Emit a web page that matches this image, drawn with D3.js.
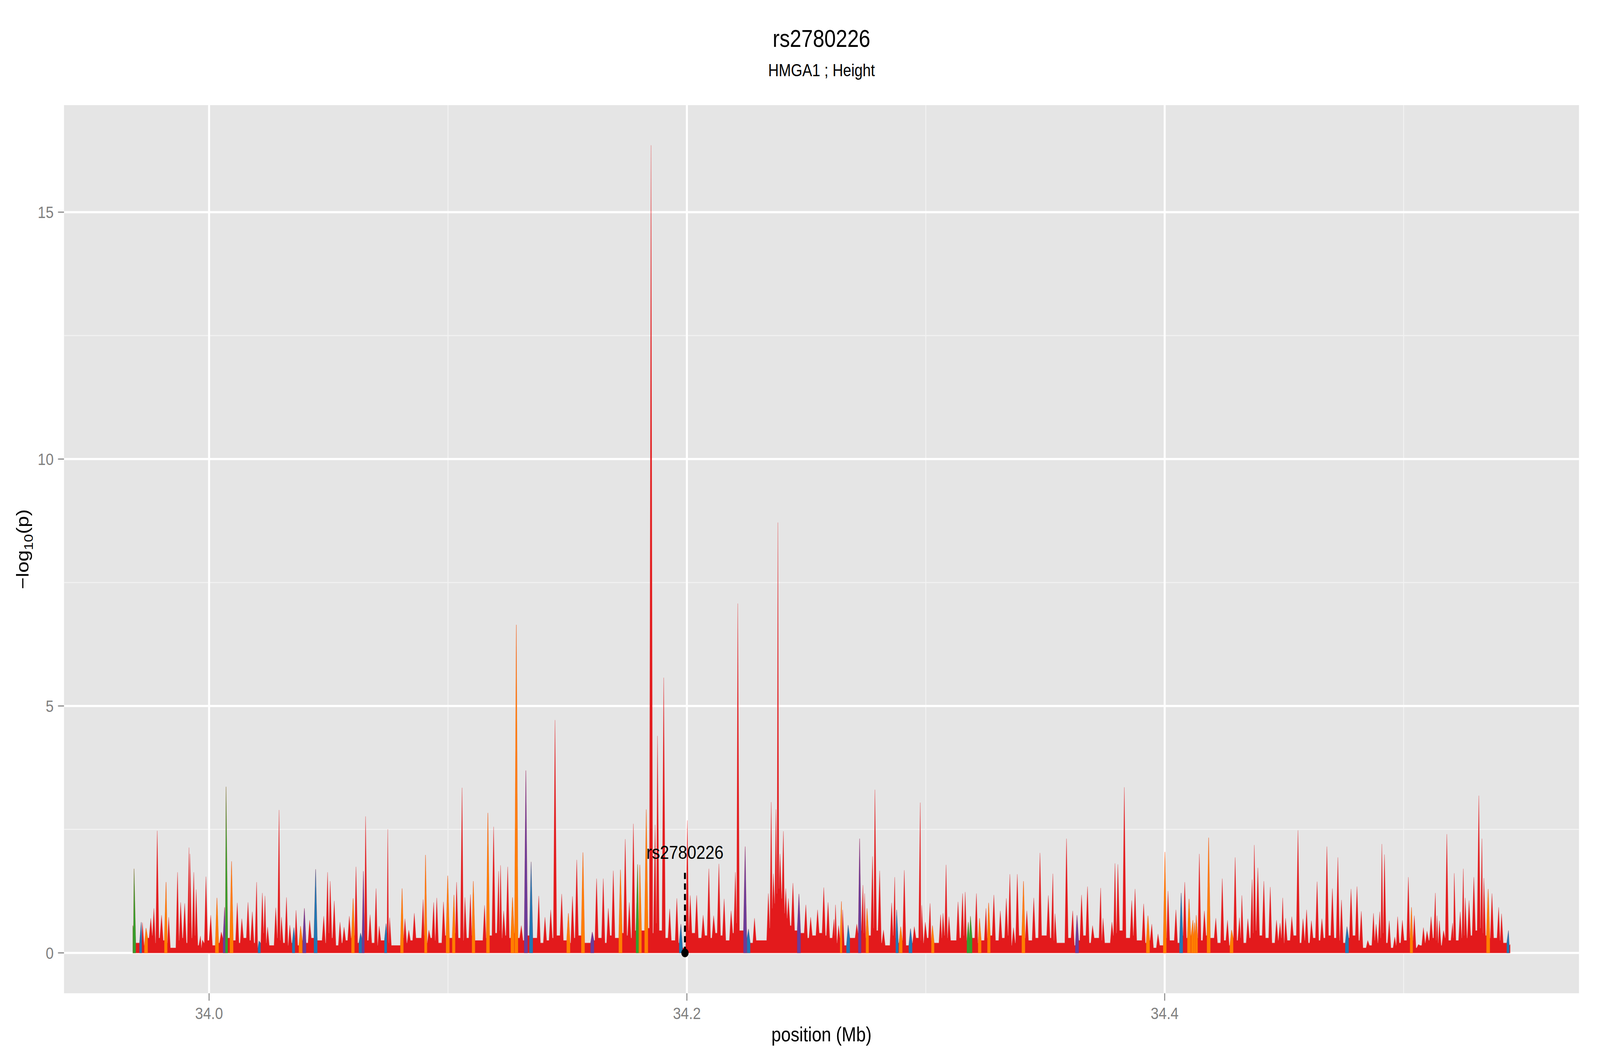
<!DOCTYPE html>
<html>
<head>
<meta charset="utf-8">
<script src="https://cdn.jsdelivr.net/npm/d3@7/dist/d3.min.js"></script>
<style>
  html, body { margin: 0; padding: 0; background: #fff; overflow: hidden; }
  svg { display: block; }
  text { font-family: "Liberation Sans", Arial, Helvetica, sans-serif; }
</style>
</head>
<body>
<script>
// ---- data ----
const chartTitle = "rs2780226";
const chartSubtitle = "HMGA1 ; Height";
const xLabel = "position (Mb)";

const xTicks = [34.0, 34.2, 34.4];
const xMinorTicks = [34.1, 34.3, 34.5];
const yTicks = [0, 5, 10, 15];
const yMinorTicks = [2.5, 7.5, 12.5];

// SNP positions (Mb)
const snpPos = [
  33.9681,33.9686,33.9716,33.9721,33.9736,33.9756,33.9769,33.9783,33.9801,33.9820,
  33.9831,33.9868,33.9881,33.9898,33.9916,33.9920,33.9936,33.9946,33.9964,33.9972,
  33.9987,34.0007,34.0033,34.0051,34.0065,34.0071,34.0094,34.0118,34.0137,34.0163,
  34.0181,34.0199,34.0209,34.0223,34.0234,34.0245,34.0279,34.0293,34.0303,34.0324,
  34.0338,34.0355,34.0364,34.0383,34.0399,34.0421,34.0446,34.0480,34.0496,34.0507,
  34.0524,34.0548,34.0565,34.0587,34.0603,34.0615,34.0634,34.0646,34.0655,34.0674,
  34.0699,34.0712,34.0741,34.0748,34.0756,34.0808,34.0820,34.0836,34.0859,34.0896,
  34.0906,34.0920,34.0940,34.0953,34.0981,34.0999,34.1025,34.1036,34.1059,34.1071,
  34.1094,34.1106,34.1153,34.1167,34.1191,34.1212,34.1220,34.1233,34.1250,34.1270,
  34.1286,34.1307,34.1326,34.1348,34.1380,34.1406,34.1430,34.1448,34.1476,34.1504,
  34.1521,34.1539,34.1565,34.1604,34.1622,34.1650,34.1671,34.1692,34.1722,34.1742,
  34.1759,34.1776,34.1794,34.1803,34.1830,34.1850,34.1867,34.1877,34.1903,34.1928,
  34.1958,34.1975,34.2002,34.2014,34.2041,34.2068,34.2092,34.2112,34.2134,34.2156,
  34.2185,34.2203,34.2213,34.2244,34.2258,34.2283,34.2341,34.2353,34.2362,34.2373,
  34.2381,34.2390,34.2404,34.2414,34.2425,34.2444,34.2469,34.2498,34.2518,34.2547,
  34.2573,34.2591,34.2616,34.2622,34.2635,34.2647,34.2652,34.2675,34.2711,34.2723,
  34.2737,34.2744,34.2754,34.2777,34.2787,34.2807,34.2823,34.2857,34.2870,34.2878,
  34.2895,34.2910,34.2936,34.2952,34.2977,34.2983,34.2998,34.3018,34.3028,34.3062,
  34.3072,34.3085,34.3097,34.3135,34.3154,34.3165,34.3178,34.3187,34.3212,34.3225,
  34.3252,34.3263,34.3285,34.3312,34.3337,34.3352,34.3367,34.3383,34.3409,34.3423,
  34.3452,34.3478,34.3513,34.3532,34.3541,34.3589,34.3615,34.3633,34.3652,34.3677,
  34.3698,34.3732,34.3742,34.3779,34.3792,34.3804,34.3831,34.3862,34.3876,34.3912,
  34.3930,34.3946,34.3972,34.4001,34.4014,34.4047,34.4069,34.4084,34.4102,34.4118,
  34.4125,34.4132,34.4145,34.4166,34.4184,34.4214,34.4241,34.4263,34.4280,34.4295,
  34.4313,34.4323,34.4348,34.4366,34.4375,34.4390,34.4415,34.4442,34.4468,34.4483,
  34.4494,34.4506,34.4532,34.4558,34.4579,34.4594,34.4614,34.4638,34.4658,34.4679,
  34.4702,34.4725,34.4740,34.4763,34.4780,34.4805,34.4823,34.4850,34.4874,34.4885,
  34.4900,34.4909,34.4920,34.4940,34.4963,34.4975,34.4995,34.5020,34.5033,34.5045,
  34.5062,34.5083,34.5098,34.5115,34.5133,34.5140,34.5150,34.5167,34.5181,34.5205,
  34.5212,34.5237,34.5250,34.5258,34.5274,34.5294,34.5315,34.5328,34.5336,34.5354,
  34.5370,34.5398,34.5410,34.5439,34.5446
];

// -log10(p) at each SNP
const snpLogP = [
  0.55,1.70,0.62,0.61,0.50,0.70,0.90,2.47,0.76,1.43,
  0.72,1.63,1.02,1.00,2.13,2.00,1.63,1.28,0.34,0.26,
  1.54,0.76,1.11,0.42,0.92,3.36,1.85,1.01,0.69,1.02,
  0.83,1.43,0.24,1.21,1.15,0.52,0.91,2.89,0.72,1.12,
  0.56,0.51,0.86,0.54,0.90,0.66,1.69,0.74,1.63,1.45,
  1.05,0.62,0.52,0.74,1.10,1.74,0.40,1.65,2.76,0.77,
  1.30,0.54,0.59,2.50,0.71,1.30,0.69,0.46,0.80,1.08,
  1.98,0.46,1.02,1.11,1.03,1.56,1.17,1.43,3.34,1.12,
  1.18,1.45,0.96,2.83,2.55,1.65,1.77,0.85,1.74,1.12,
  6.64,0.55,3.69,1.84,1.15,0.72,0.87,4.71,1.19,0.80,
  1.14,1.88,2.03,0.42,1.50,1.50,0.90,1.66,1.68,2.30,
  1.02,2.61,1.79,1.78,2.90,16.35,2.59,4.39,5.57,0.89,
  1.10,0.58,2.68,1.16,1.16,0.76,1.70,0.75,1.80,1.09,
  0.85,1.63,7.07,2.15,0.48,0.70,1.20,3.05,1.60,2.90,
  8.71,2.00,2.46,1.30,1.10,1.41,1.19,0.97,0.72,0.87,
  1.32,1.02,0.68,0.97,0.55,1.04,0.87,0.56,0.58,2.31,
  1.37,1.20,0.90,1.95,3.30,1.66,0.46,1.01,1.53,0.87,
  0.53,1.67,0.49,0.53,3.04,0.96,0.62,1.00,0.55,0.77,
  0.80,1.78,0.73,1.03,1.20,1.23,0.62,0.74,1.20,0.70,
  0.90,1.01,1.17,0.85,1.10,1.59,0.51,1.59,1.45,0.85,
  1.11,2.02,1.16,1.60,0.79,2.31,0.85,0.76,1.17,1.34,
  0.55,1.31,0.70,0.62,1.81,1.79,3.35,1.06,1.29,0.99,
  0.75,0.58,0.38,2.04,1.25,0.87,1.21,1.43,1.09,0.66,
  0.61,0.76,2.00,0.85,2.33,0.70,1.50,0.66,0.46,1.93,
  0.71,1.16,0.69,1.48,2.18,1.72,1.45,1.33,0.66,0.60,
  1.11,0.70,0.73,2.48,0.69,0.87,0.65,1.44,0.69,2.15,
  1.30,1.93,1.07,0.53,1.29,1.34,0.84,0.25,0.80,0.58,
  0.83,2.20,1.99,0.65,0.32,0.73,0.66,1.53,0.92,0.75,
  0.17,0.51,0.44,0.73,1.21,0.75,0.65,0.45,2.40,0.60,
  1.61,0.83,1.70,1.11,1.06,1.53,3.18,2.31,1.51,1.29,
  1.20,0.92,0.79,0.45,0.17
];

// low point reached between a SNP and the next one
const snpDip = [
  0.50,0.20,0.25,0.15,0.30,0.35,0.20,0.30,0.25,0.20,
  0.10,0.25,0.30,0.20,0.60,0.30,0.35,0.15,0.10,0.20,
  0.25,0.15,0.20,0.30,0.40,0.30,0.25,0.20,0.30,0.25,
  0.20,0.10,0.20,0.40,0.20,0.15,0.30,0.25,0.20,0.15,
  0.20,0.30,0.15,0.25,0.20,0.30,0.25,0.20,0.40,0.30,
  0.15,0.20,0.25,0.30,0.35,0.20,0.30,0.45,0.25,0.20,
  0.15,0.25,0.40,0.20,0.15,0.30,0.20,0.25,0.30,0.35,
  0.20,0.30,0.25,0.20,0.35,0.30,0.40,0.30,0.25,0.30,
  0.35,0.25,0.30,0.35,0.40,0.45,0.30,0.35,0.30,0.40,
  0.30,0.25,0.35,0.30,0.20,0.25,0.30,0.35,0.25,0.20,
  0.30,0.35,0.20,0.25,0.30,0.20,0.35,0.30,0.40,0.35,
  0.30,0.45,0.40,0.45,0.50,0.40,0.60,0.45,0.30,0.25,
  0.20,0.10,0.45,0.40,0.30,0.35,0.30,0.40,0.35,0.25,
  0.40,0.60,0.45,0.30,0.20,0.25,0.50,0.90,1.00,1.20,
  1.30,1.10,0.80,0.70,0.55,0.45,0.40,0.30,0.35,0.40,
  0.35,0.30,0.35,0.20,0.30,0.25,0.15,0.30,0.40,0.45,
  0.40,0.30,0.35,0.50,0.45,0.20,0.15,0.35,0.30,0.20,
  0.25,0.15,0.20,0.30,0.25,0.20,0.30,0.25,0.20,0.30,
  0.35,0.30,0.25,0.30,0.35,0.25,0.30,0.30,0.20,0.25,
  0.30,0.35,0.25,0.30,0.35,0.15,0.20,0.35,0.30,0.25,
  0.30,0.35,0.30,0.25,0.20,0.30,0.15,0.25,0.35,0.20,
  0.30,0.25,0.20,0.35,0.40,0.45,0.30,0.35,0.25,0.20,
  0.25,0.10,0.15,0.30,0.25,0.20,0.35,0.30,0.35,0.30,
  0.35,0.30,0.25,0.35,0.30,0.20,0.25,0.15,0.30,0.25,
  0.30,0.20,0.30,0.40,0.45,0.35,0.30,0.20,0.25,0.30,
  0.20,0.25,0.35,0.20,0.25,0.20,0.30,0.25,0.30,0.35,
  0.30,0.25,0.20,0.30,0.35,0.25,0.10,0.15,0.25,0.20,
  0.30,0.40,0.20,0.10,0.15,0.20,0.25,0.30,0.25,0.10,
  0.15,0.20,0.25,0.30,0.25,0.20,0.15,0.30,0.25,0.30,
  0.25,0.30,0.35,0.30,0.35,0.45,0.50,0.40,0.35,0.30,
  0.30,0.25,0.20,0.15,0
];

// LD class of each SNP with the index SNP: r=red, o=orange, g=green, b=blue, p=purple
const snpLD = (
  "ggbrorrrro" + "rrrrrrrrrr" + "rrorpgorrr" + "rrbrrrrrrr" + "rbroprbrrr" +
  "rrrrorbprr" + "rrbrrorrrr" + "orrrroorrr" + "rororrrrro" + "orpbrrrrro" +
  "rroprrrror" + "rrgoorrrrr" + "rbrrrrrrrr" + "rrrpbrrrrr" + "rrrrrrprrr" +
  "rrrrrorbrp" + "rrorrrrrrb" + "orbrrrrror" + "rrrrrrggro" + "rorrrrrror" +
  "rrrrrrrprr" + "rrrrrrrrrr" + "orrorrbroo" + "oorrorrror" + "rrrrrrrrrr" +
  "rrrrrrrrrr" + "rrrbrrrrrr" + "rrrrrrrror" + "rrrrrrrrrr" + "rrrrrrrrro" +
  "rrrbr"
).split("");

const leadSnp = "rs2780226";
const leadPos = 34.1992;

// ---- layout (reference coordinates; svg is stretched to the window) ----
const W = 4800, H = 2700;
const panel = { left: 192, right: 4737, top: 269, bottom: 2542 };
const ldColour = { r: "#E31A1C", o: "#FF7F00", g: "#33A02C", b: "#1F78B4", p: "#6A3D9A" };
const grey50 = "#7F7F7F";
const spikeHalf = 0.0007;   // Mb, half width of a spike foot

const svg = d3.select("body").append("svg")
  .attr("viewBox", `0 0 ${W} ${H}`)
  .attr("preserveAspectRatio", "none")
  .style("width", "100vw")
  .style("height", "100vh");

svg.append("rect").attr("width", W).attr("height", H).attr("fill", "#fff");

// ggplot-like 5% expansion
const xExt = d3.extent(snpPos), xPad = (xExt[1] - xExt[0]) * 0.05;
const yMax = d3.max(snpLogP), yPad = yMax * 0.05;

const x = d3.scaleLinear().domain([xExt[0] - xPad, xExt[1] + xPad]).range([panel.left, panel.right]);
const y = d3.scaleLinear().domain([-yPad, yMax + yPad]).range([panel.bottom, panel.top]);

// panel background + grid
svg.append("rect")
  .attr("x", panel.left).attr("y", panel.top)
  .attr("width", panel.right - panel.left).attr("height", panel.bottom - panel.top)
  .attr("fill", "#E5E5E5");

const grid = svg.append("g");
grid.selectAll("line.xmin").data(xMinorTicks).enter().append("line")
  .attr("x1", d => x(d)).attr("x2", d => x(d))
  .attr("y1", panel.top).attr("y2", panel.bottom)
  .attr("stroke", "#F2F2F2").attr("stroke-width", 2.7);
grid.selectAll("line.ymin").data(yMinorTicks).enter().append("line")
  .attr("x1", panel.left).attr("x2", panel.right)
  .attr("y1", d => y(d)).attr("y2", d => y(d))
  .attr("stroke", "#F2F2F2").attr("stroke-width", 2.7);
grid.selectAll("line.xmaj").data(xTicks).enter().append("line")
  .attr("x1", d => x(d)).attr("x2", d => x(d))
  .attr("y1", panel.top).attr("y2", panel.bottom)
  .attr("stroke", "#fff").attr("stroke-width", 6);
grid.selectAll("line.ymaj").data(yTicks).enter().append("line")
  .attr("x1", panel.left).attr("x2", panel.right)
  .attr("y1", d => y(d)).attr("y2", d => y(d))
  .attr("stroke", "#fff").attr("stroke-width", 5.5);

// spiky profile: foot -> peak -> foot for every SNP, dips in between
const n = snpPos.length;
const profile = [];
const spikeRange = [];
for (let i = 0; i < n; i++) {
  const start = profile.length;
  if (i > 0) {
    const gap = snpPos[i] - snpPos[i - 1];
    const foot = Math.min(snpDip[i - 1], snpLogP[i - 1], snpLogP[i]);
    profile.push({ x: snpPos[i] - Math.min(spikeHalf, gap * 0.45), v: foot });
  }
  profile.push({ x: snpPos[i], v: snpLogP[i] });
  if (i < n - 1) {
    const gap = snpPos[i + 1] - snpPos[i];
    const foot = Math.min(snpDip[i], snpLogP[i], snpLogP[i + 1]);
    profile.push({ x: snpPos[i] + Math.min(spikeHalf, gap * 0.45), v: foot });
  }
  spikeRange.push([start, profile.length]);
}

const area = d3.area()
  .x(d => x(d.x))
  .y0(y(0))
  .y1(d => y(d.v))
  .curve(d3.curveLinear);

const plot = svg.append("g");

plot.append("path")
  .attr("d", area(profile))
  .attr("fill", ldColour.r)
  .attr("stroke", ldColour.r)
  .attr("stroke-opacity", 0.4)
  .attr("stroke-width", 1.6)
  .attr("stroke-linejoin", "round");

// coloured spikes for SNPs outside the top LD class
snpLD.forEach((c, i) => {
  if (c === "r") return;
  const seg = profile.slice(spikeRange[i][0], spikeRange[i][1]);
  plot.append("path")
    .attr("d", area(seg))
    .attr("fill", ldColour[c])
    .attr("stroke", ldColour[c])
    .attr("stroke-opacity", 0.4)
    .attr("stroke-width", 1.4)
    .attr("stroke-linejoin", "round");
});

// index SNP marker
const lx = x(leadPos), ly = y(0);
svg.append("line")
  .attr("x1", lx).attr("x2", lx)
  .attr("y1", ly).attr("y2", ly - 207)
  .attr("stroke", "#000").attr("stroke-width", 6)
  .attr("stroke-dasharray", "16,11");
svg.append("circle")
  .attr("cx", lx).attr("cy", ly).attr("r", 11).attr("fill", "#000");
svg.append("text")
  .attr("x", lx).attr("y", ly - 241)
  .attr("text-anchor", "middle")
  .attr("font-size", 49).attr("fill", "#000")
  .text(leadSnp);

// axes
const xAxis = svg.append("g");
xAxis.selectAll("line").data(xTicks).enter().append("line")
  .attr("x1", d => x(d)).attr("x2", d => x(d))
  .attr("y1", panel.bottom).attr("y2", panel.bottom + 19)
  .attr("stroke", grey50).attr("stroke-width", 2.7);
xAxis.selectAll("text").data(xTicks).enter().append("text")
  .attr("x", d => x(d)).attr("y", 2608)
  .attr("text-anchor", "middle")
  .attr("font-size", 43).attr("fill", grey50)
  .text(d => d3.format(".1f")(d));

const yAxis = svg.append("g");
yAxis.selectAll("line").data(yTicks).enter().append("line")
  .attr("x1", panel.left - 18).attr("x2", panel.left)
  .attr("y1", d => y(d)).attr("y2", d => y(d))
  .attr("stroke", grey50).attr("stroke-width", 2.7);
yAxis.selectAll("text").data(yTicks).enter().append("text")
  .attr("x", 161).attr("y", d => y(d))
  .attr("dy", "0.36em")
  .attr("text-anchor", "end")
  .attr("font-size", 43).attr("fill", grey50)
  .text(d => d);

// titles
const midX = (panel.left + panel.right) / 2;
svg.append("text")
  .attr("x", midX).attr("y", 120)
  .attr("text-anchor", "middle").attr("font-size", 62).attr("fill", "#000")
  .text(chartTitle);
svg.append("text")
  .attr("x", midX).attr("y", 195)
  .attr("text-anchor", "middle").attr("font-size", 44).attr("fill", "#000")
  .text(chartSubtitle);
svg.append("text")
  .attr("x", midX).attr("y", 2665)
  .attr("text-anchor", "middle").attr("font-size", 52).attr("fill", "#000")
  .text(xLabel);

const yl = svg.append("text")
  .attr("transform", `translate(86,${(panel.top + panel.bottom) / 2}) rotate(-90)`)
  .attr("text-anchor", "middle").attr("font-size", 52).attr("fill", "#000");
yl.append("tspan").text("\u2212log");
yl.append("tspan").attr("font-size", 37).attr("dy", 12).text("10");
yl.append("tspan").attr("dy", -12).text("(p)");
</script>
</body>
</html>
